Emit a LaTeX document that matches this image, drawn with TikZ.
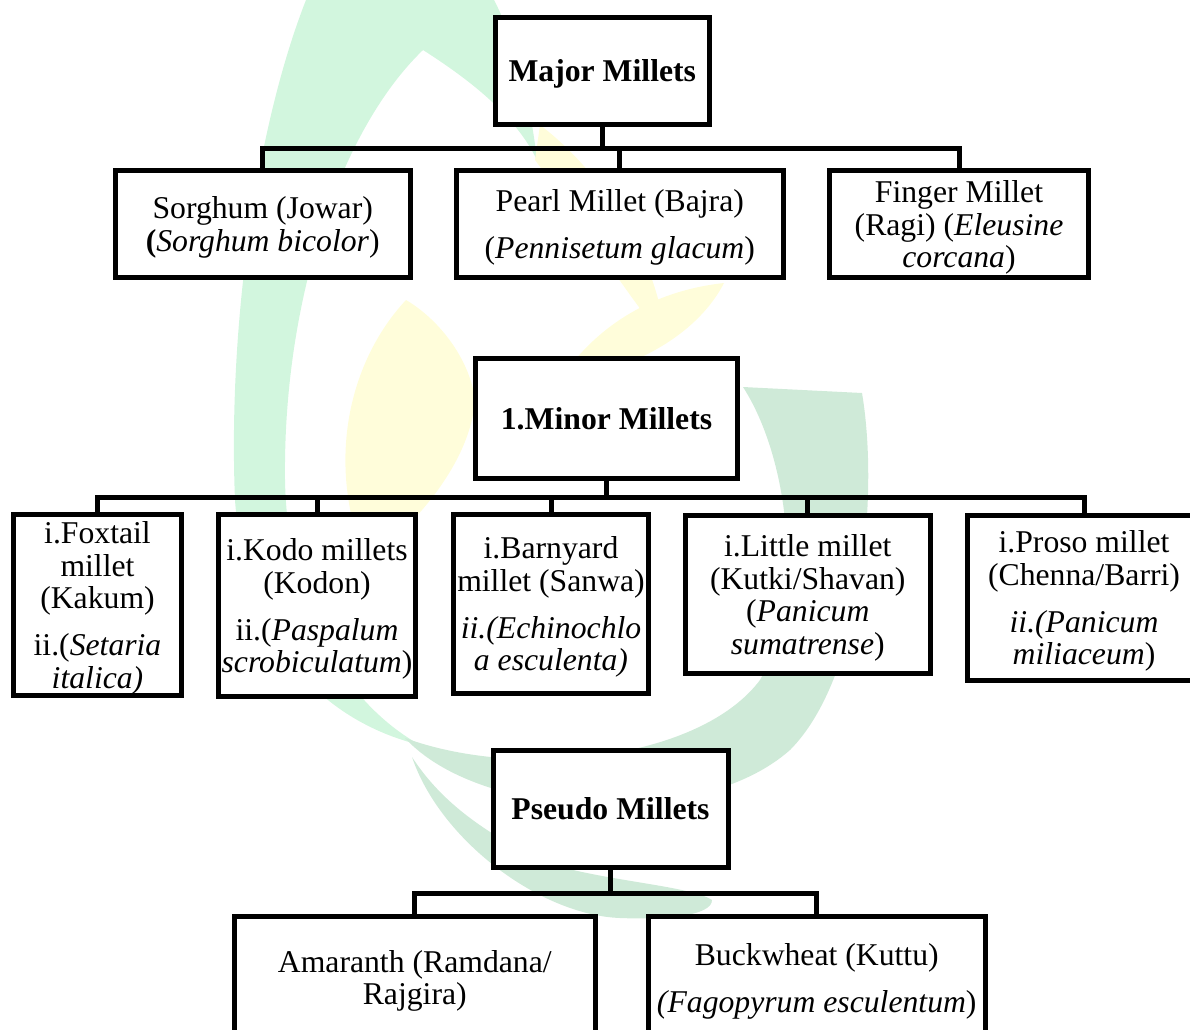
\documentclass[tikz,border=0pt]{standalone}
\usepackage{fontspec}
\setmainfont{Liberation Serif}
\definecolor{wmmint}{RGB}{210,246,222}
\definecolor{wmgreen}{RGB}{207,234,216}
\definecolor{wmyellow}{RGB}{255,253,218}
\newcommand{\tstr}{\rule{0pt}{29pt}}
\newcommand{\bstr}{\rule[-7pt]{0pt}{7pt}}
\tikzset{
  box/.style={draw=black, line width=5pt, fill=white, align=center, inner sep=0pt,
              font=\fontsize{31.7}{32.5}\selectfont},
  bbox/.style={box, font=\fontsize{31.7}{32.5}\selectfont\bfseries},
  conn/.style={draw=black, line width=5pt, line join=miter}
}
\newcommand{\pgap}{\\[14.5pt]}
\begin{document}
\begin{tikzpicture}[x=1pt,y=-1pt]
\useasboundingbox (0,0) rectangle (1190,1029);
% ---- faint background logo ----
\fill[wmmint] (306,0) .. controls (255,130) and (228,330) .. (235,500)
   .. controls (245,640) and (320,720) .. (420,745)
   .. controls (340,700) and (287,600) .. (285,480)
   .. controls (283,300) and (340,130) .. (423,50)
   .. controls (470,80) and (515,115) .. (537,160)
   .. controls (530,100) and (515,40) .. (494,0) -- cycle;
\fill[wmgreen] (405,738) .. controls (480,820) and (700,830) .. (790,750)
   .. controls (860,680) and (880,500) .. (862,393) -- (743,387)
   .. controls (790,460) and (805,600) .. (760,680)
   .. controls (700,760) and (520,780) .. (405,738) -- cycle;
\fill[wmgreen] (412,757) .. controls (440,840) and (540,915) .. (620,918)
   .. controls (670,920) and (712,915) .. (712,900)
   .. controls (690,885) and (590,880) .. (540,860)
   .. controls (480,830) and (440,800) .. (412,757) -- cycle;
\fill[wmyellow] (406,300) .. controls (350,360) and (325,460) .. (365,560)
   .. controls (400,540) and (470,470) .. (475,400)
   .. controls (470,360) and (440,320) .. (406,300) -- cycle;
\fill[wmyellow] (540,125) .. controls (600,170) and (660,260) .. (665,340)
   .. controls (630,300) and (580,220) .. (535,160) -- cycle;
\fill[wmyellow] (560,380) .. controls (600,320) and (660,290) .. (724,283)
   .. controls (700,330) and (640,370) .. (560,380) -- cycle;
% ---- level 1 ----
\node[bbox, minimum width=214.5pt, minimum height=106.5pt] (major) at (602.25,70.75) {\tstr Major Millets\bstr};
\node[box, minimum width=294.5pt, minimum height=107pt] (sorghum) at (262.75,224)
  {\tstr Sorghum (Jowar)\\{\bfseries(}\textit{Sorghum bicolor})\bstr};
\node[box, minimum width=327.5pt, minimum height=107pt] (pearl) at (619.75,224)
  {\tstr Pearl Millet (Bajra)\pgap(\textit{Pennisetum glacum})\bstr};
\node[box, minimum width=259pt, minimum height=107pt] (finger) at (959,224)
  {\tstr Finger Millet\\(Ragi) (\textit{Eleusine}\\\textit{corcana})\bstr};
% ---- level 2 ----
\node[bbox, minimum width=262pt, minimum height=120pt] (minor) at (606.5,418) {\tstr 1.Minor Millets\bstr};
\node[box, minimum width=168pt, minimum height=180.5pt] (foxtail) at (97.5,604.75)
  {\tstr i.Foxtail\\millet\\(Kakum)\pgap ii.(\textit{Setaria}\\\textit{italica)}\bstr};
\node[box, minimum width=197pt, minimum height=182pt] (kodo) at (317,605.5)
  {\tstr i.Kodo millets\\(Kodon)\pgap ii.(\textit{Paspalum}\\\textit{scrobiculatum})\bstr};
\node[box, minimum width=195pt, minimum height=178.5pt] (barnyard) at (551,603.75)
  {\tstr i.Barnyard\\millet (Sanwa)\pgap\textit{ii.(Echinochlo}\\\textit{a esculenta)}\bstr};
\node[box, minimum width=245.5pt, minimum height=158.5pt] (little) at (807.75,594.25)
  {\tstr i.Little millet\\(Kutki/Shavan)\\(\textit{Panicum}\\\textit{sumatrense})\bstr};
\node[box, minimum width=233pt, minimum height=165.5pt] (proso) at (1084,597.75)
  {\tstr i.Proso millet\\(Chenna/Barri)\pgap\textit{ii.(Panicum}\\\textit{miliaceum})\bstr};
% ---- level 3 ----
\node[bbox, minimum width=235pt, minimum height=117pt] (pseudo) at (610.5,808.5) {\tstr Pseudo Millets\bstr};
\node[box, minimum width=360.5pt, minimum height=122pt] (amaranth) at (414.75,977.5)
  {\tstr Amaranth (Ramdana/\\Rajgira)\bstr};
\node[box, minimum width=336.5pt, minimum height=123pt] (buckwheat) at (816.75,978)
  {\tstr Buckwheat (Kuttu)\pgap\textit{(Fagopyrum esculentum})\bstr};
% ---- connectors ----
\coordinate (h1) at (0,148);
\coordinate (h2) at (0,497);
\coordinate (h3) at (0,893);
\draw[conn] (major.south) -- (major.south |- h1);
\draw[conn] (sorghum.north) |- (finger.north |- h1) -- (finger.north);
\draw[conn] (pearl.north) -- (pearl.north |- h1);
\draw[conn] (minor.south) -- (minor.south |- h2);
\draw[conn] (foxtail.north) |- (proso.north |- h2) -- (proso.north);
\draw[conn] (kodo.north) -- (kodo.north |- h2);
\draw[conn] (barnyard.north) -- (barnyard.north |- h2);
\draw[conn] (little.north) -- (little.north |- h2);
\draw[conn] (pseudo.south) -- (pseudo.south |- h3);
\draw[conn] (amaranth.north) |- (buckwheat.north |- h3) -- (buckwheat.north);
\end{tikzpicture}
\end{document}
